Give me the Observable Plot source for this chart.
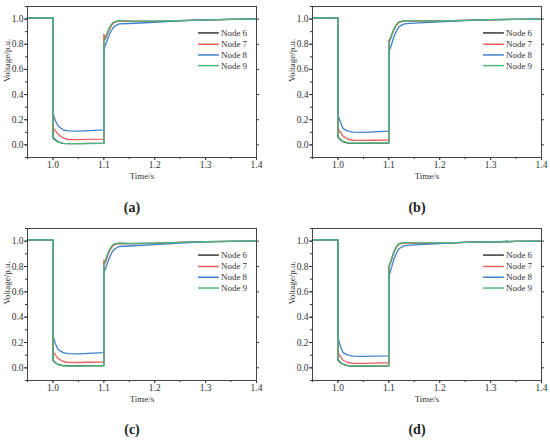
<!DOCTYPE html>
<html>
<head>
<meta charset="utf-8">
<script src="https://cdn.jsdelivr.net/npm/d3@7"></script>
<script src="https://cdn.jsdelivr.net/npm/@observablehq/plot@0.6"></script>
<style>
  html, body { margin: 0; padding: 0; background: #fff; overflow: hidden; }
  #root { position: relative; width: 550px; height: 441px; font-family: "Liberation Serif", "DejaVu Serif", serif; }
  .panel { position: absolute; }
  .panel svg, .panel svg text { font-family: "Liberation Serif", "DejaVu Serif", serif !important; }
  .cap { position: absolute; font-family: "Liberation Serif", serif; font-weight: bold; font-size: 14px; color: #222; transform: translate(-50%, -50%); }
</style>
</head>
<body>
<div id="root"></div>
<script>
// ---- data ----
const times = [0.95, 1.0, 1.0, 1.005, 1.01, 1.02, 1.03, 1.05, 1.07, 1.1, 1.1, 1.103, 1.11, 1.115, 1.12, 1.13, 1.15, 1.2, 1.25, 1.3, 1.35, 1.4];
const nodes = ["Node 6", "Node 7", "Node 8", "Node 9"];
const nodeColors = ["#3a3a3a", "#e8605a", "#3d80cc", "#4dba7c"];
const panelLabels = ["(a)", "(b)", "(c)", "(d)"];
const xTicks = [1.0, 1.1, 1.2, 1.3, 1.4];
const yTicks = [0.0, 0.2, 0.4, 0.6, 0.8, 1.0];

const a6 = [1.01,1.01,0.06,0.04,0.025,0.013,0.011,0.011,0.012,0.013,0.82,0.85,0.92,0.955,0.975,0.985,0.982,0.982,0.987,0.993,0.997,1.0];
const a7 = [1.01,1.01,0.14,0.11,0.085,0.055,0.043,0.042,0.044,0.046,0.88,0.84,0.91,0.95,0.972,0.985,0.982,0.982,0.987,0.993,0.997,1.0];
const a8 = [1.01,1.01,0.25,0.19,0.15,0.12,0.112,0.11,0.114,0.12,0.76,0.79,0.87,0.91,0.94,0.962,0.965,0.975,0.985,0.993,0.997,1.0];
const a9 = [1.01,1.01,0.05,0.035,0.022,0.012,0.01,0.01,0.011,0.012,0.81,0.85,0.925,0.96,0.978,0.987,0.984,0.983,0.988,0.993,0.997,1.0];

const b6 = [1.01,1.01,0.06,0.04,0.025,0.015,0.013,0.013,0.014,0.015,0.82,0.85,0.92,0.955,0.975,0.985,0.985,0.985,0.99,0.995,0.998,1.0];
const b7 = [1.01,1.01,0.13,0.1,0.07,0.045,0.037,0.036,0.037,0.039,0.83,0.84,0.915,0.952,0.973,0.985,0.985,0.985,0.99,0.995,0.998,1.0];
const b8 = [1.01,1.01,0.24,0.18,0.13,0.11,0.102,0.1,0.104,0.11,0.74,0.77,0.86,0.905,0.94,0.962,0.968,0.978,0.988,0.994,0.997,1.0];
const b9 = [1.01,1.01,0.065,0.045,0.028,0.016,0.014,0.014,0.015,0.016,0.80,0.84,0.92,0.958,0.978,0.988,0.986,0.985,0.99,0.995,0.998,1.0];

const c6 = [1.01,1.01,0.06,0.04,0.028,0.018,0.015,0.015,0.016,0.017,0.81,0.845,0.92,0.955,0.975,0.983,0.98,0.983,0.99,0.996,0.999,1.0];
const c7 = [1.01,1.01,0.13,0.1,0.075,0.05,0.043,0.042,0.044,0.046,0.85,0.83,0.91,0.95,0.97,0.982,0.98,0.983,0.99,0.996,0.999,1.0];
const c8 = [1.01,1.01,0.25,0.19,0.145,0.12,0.112,0.11,0.114,0.12,0.75,0.78,0.86,0.905,0.935,0.958,0.962,0.972,0.985,0.994,0.998,1.0];
const c9 = [1.01,1.01,0.055,0.038,0.026,0.016,0.014,0.014,0.015,0.016,0.80,0.845,0.925,0.96,0.978,0.985,0.982,0.984,0.99,0.996,0.999,1.0];

const d6 = [1.01,1.01,0.06,0.04,0.028,0.016,0.013,0.013,0.014,0.015,0.80,0.83,0.915,0.955,0.978,0.988,0.985,0.985,0.99,0.995,0.998,1.0];
const d7 = [1.01,1.01,0.12,0.09,0.06,0.042,0.035,0.035,0.037,0.04,0.80,0.83,0.912,0.953,0.976,0.987,0.985,0.985,0.99,0.995,0.998,1.0];
const d8 = [1.01,1.01,0.24,0.17,0.12,0.1,0.092,0.09,0.092,0.095,0.72,0.76,0.86,0.905,0.94,0.965,0.97,0.98,0.99,0.995,0.998,1.0];
const d9 = [1.01,1.01,0.065,0.045,0.03,0.018,0.015,0.015,0.016,0.017,0.79,0.83,0.918,0.958,0.98,0.99,0.987,0.986,0.99,0.995,0.998,1.0];

const panelSeries = [[a6, a7, a8, a9], [b6, b7, b8, b9], [c6, c7, c8, c9], [d6, d7, d8, d9]];

// ---- layout ----
const layout = [
  { left: 0,   top: 0,   width: 275, height: 187, plotH: 151, capX: 132, capY: 208 },
  { left: 285, top: 0,   width: 265, height: 187, plotH: 151, capX: 417, capY: 208 },
  { left: 0,   top: 222, width: 275, height: 188, plotH: 152, capX: 132, capY: 430 },
  { left: 285, top: 222, width: 265, height: 188, plotH: 152, capX: 417, capY: 430 }
];

const root = document.getElementById("root");
const legendY = [0.89, 0.80, 0.715, 0.63];
const serif = "Liberation Serif, DejaVu Serif, serif";

panelSeries.forEach((series, p) => {
  const L = layout[p];
  const rows = [];
  series.forEach((vals, k) => {
    vals.forEach((v, i) => rows.push({ node: nodes[k], t: times[i], v }));
  });
  const legend = nodes.map((n, k) => ({ node: n, y: legendY[k] }));
  const marginTop = 6;
  const marginBottom = L.height - marginTop - L.plotH;
  const chart = Plot.plot({
    width: L.width,
    height: L.height,
    marginLeft: 27,
    marginRight: L.width - 256,
    marginTop,
    marginBottom,
    style: { fontFamily: serif, fontSize: "9.5px", color: "#333", background: "transparent" },
    x: { domain: [0.95, 1.4], label: null },
    y: { domain: [-0.1, 1.1], label: null },
    color: { domain: nodes, range: nodeColors },
    marks: [
      Plot.axisX({ ticks: xTicks, tickFormat: d3.format(".1f"), tickSize: 3, tickPadding: 1, label: null, fontFamily: serif }),
      Plot.axisX({ ticks: d3.range(0.95, 1.401, 0.05), tickSize: 2, text: null, label: null }),
      Plot.axisY({ ticks: yTicks, tickFormat: d3.format(".1f"), tickSize: 3, tickPadding: 1, label: null, fontFamily: serif }),
      Plot.axisY({ ticks: d3.range(-0.1, 1.101, 0.1), tickSize: 2, text: null, label: null }),
      Plot.axisY({ anchor: "right", ticks: yTicks, tickSize: 2, text: null, label: null }),
      Plot.line(rows, { x: "t", y: "v", z: "node", stroke: "node", strokeWidth: 1.3 }),
      Plot.ruleY(legend, { y: "y", x1: 1.286, x2: 1.327, stroke: "node", strokeWidth: 1.5 }),
      Plot.text(legend, { y: "y", x: 1.33, text: "node", textAnchor: "start", fontSize: 9, fill: "#333", fontFamily: serif }),
      Plot.frame({ stroke: "#444", strokeWidth: 1 }),
      Plot.text(["Time/s"], { frameAnchor: "bottom", dy: 21, fontSize: 9, fill: "#333", fontFamily: serif }),
      Plot.text(["Voltage/p.u."], { frameAnchor: "left", dx: -20, rotate: -90, fontSize: 9, fill: "#333", fontFamily: serif })
    ]
  });
  const div = document.createElement("div");
  div.className = "panel";
  div.style.left = L.left + "px";
  div.style.top = L.top + "px";
  div.appendChild(chart);
  root.appendChild(div);

  const cap = document.createElement("div");
  cap.className = "cap";
  cap.style.left = L.capX + "px";
  cap.style.top = L.capY + "px";
  cap.textContent = panelLabels[p];
  root.appendChild(cap);
});
</script>
</body>
</html>
